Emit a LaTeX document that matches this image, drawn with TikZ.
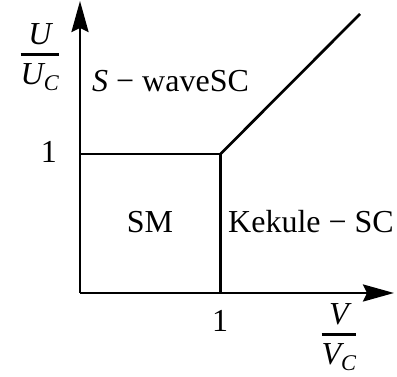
\documentclass[tikz,border=0pt]{standalone}
\usepackage{amsmath}
\usepackage{fontspec}
\setmainfont{Liberation Serif}
\usetikzlibrary{arrows.meta}

\newcommand{\itx}[1]{\text{\itshape #1}}
\newcommand{\ratio}[2]{\genfrac{}{}{2.5pt}{0}{\itx{#1}}{\itx{#1}_{\itx{#2}}}}

\begin{document}
\begin{tikzpicture}[x=1pt,y=1pt,>={Stealth[length=31pt,width=17pt,inset=4pt]}]
	\tikzset{axis/.style={line width=2.7pt},
		lbl/.style={inner sep=0pt,font=\fontsize{32}{38}\selectfont}}
	\useasboundingbox (-80,-84) rectangle (317,293);

	\coordinate (O) at (0,0);
	\coordinate (Ytip) at (0,292);
	\coordinate (Xtip) at (314,0);
	\coordinate (B1) at (0,139);
	\coordinate (B2) at (140.5,139);
	\coordinate (B3) at (140.5,0);
	\coordinate (D) at (280,279);

	% axes
	\draw [axis,->] (O) -- (Ytip);
	\draw [axis,->] (O) -- (Xtip);

	% phase boundaries
	\draw [axis] (B1) -- (B2) -- (B3);
	\draw [axis] (B2) -- (D);

	% labels
	\node (Ulbl) [lbl] at (-40,236) {$\ratio{U}{C}$};
	\node (Vlbl) [lbl] at (259,-44) {$\ratio{V}{C}$};
	\node (Yone) [lbl,anchor=base] at (-31,130) {1};
	\node (Xone) [lbl,anchor=base] at (140,-39) {1};
	\node (swave) [lbl,anchor=base west] at (12,201) {\textit{S} − waveSC};
	\node (sm) [lbl,anchor=base] at (70,60) {SM};
	\node (kek) [lbl,anchor=base west] at (148,60) {Kekule − SC};
\end{tikzpicture}
\end{document}
